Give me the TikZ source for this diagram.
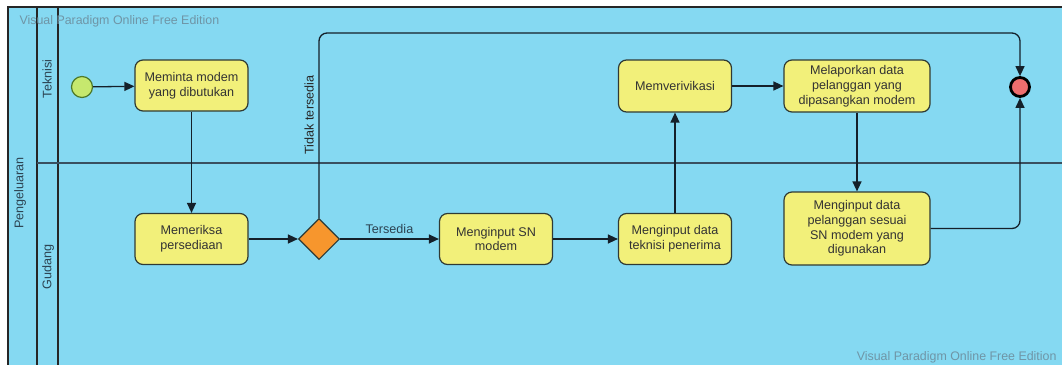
\documentclass[tikz,border=0pt]{standalone}
\usepackage{fontspec}
\setmainfont{Liberation Sans}
\usetikzlibrary{shapes.geometric,arrows.meta}

\definecolor{poolblue}{HTML}{85D9F2}
\definecolor{taskfill}{HTML}{F2F07A}
\definecolor{taskline}{HTML}{2F3A34}
\definecolor{gwfill}{HTML}{F7962D}
\definecolor{startfill}{HTML}{C6E86E}
\definecolor{startline}{HTML}{4E7A2A}
\definecolor{endfill}{HTML}{EE6E6E}
\definecolor{laneline}{HTML}{3A5060}
\definecolor{labeltext}{HTML}{2C4352}
\definecolor{marktext}{HTML}{6F95A6}
\definecolor{flowline}{HTML}{14202A}

\tikzset{
  task/.style={draw=taskline, fill=taskfill, line width=1.2pt, rounded corners=8pt,
    minimum width=113pt, minimum height=51pt, align=center, inner sep=2pt,
    text=black!80, font=\fontsize{12.6}{14.8}\selectfont},
  gateway/.style={draw=taskline, fill=gwfill, diamond, line width=1.1pt,
    minimum width=41pt, minimum height=41pt, inner sep=0pt},
  flow/.style={draw=flowline, line width=1.3pt, -{Triangle[length=10pt,width=9pt]}},
  lanelabel/.style={text=labeltext, font=\fontsize{12.6}{14}\selectfont, rotate=90},
  wmtext/.style={text=marktext, font=\fontsize{12.4}{14}\selectfont}
}

\begin{document}
\begin{tikzpicture}[x=1pt,y=-1pt]
\useasboundingbox (0,0) rectangle (1062,364);
\clip (0,0) rectangle (1062,364);
\fill[white] (0,0) rectangle (1062,364);

% pool and lanes
\draw[fill=poolblue, draw=black!85, line width=1.1pt] (8,7) rectangle (1075,380);
\draw[draw=black!85, line width=1.1pt] (37,7) -- (37,380);
\draw[draw=black!85, line width=1.1pt] (58,7) -- (58,380);
\draw[draw=laneline, line width=1.4pt] (37,163) -- (1075,163);

\node[lanelabel] (pool) at (20,193) {Pengeluaran};
\node[lanelabel] (laneA) at (47,79) {Teknisi};
\node[lanelabel] (laneB) at (48,267) {Gudang};

\node[wmtext, anchor=base west] (wmA) at (16,24) {Visual Paradigm Online Free Edition};
\node[wmtext, anchor=base east] (wmB) at (1060,360) {Visual Paradigm Online Free Edition};

% events, tasks, gateway
\node[circle, draw=startline, fill=startfill, line width=1.2pt, minimum size=21pt, inner sep=0pt] (start) at (82,87) {};
\node[task] (t1) at (191.5,85.5) {Meminta modem\\yang dibutukan};
\node[task] (t2) at (191.5,239) {Memeriksa\\persediaan};
\node[gateway] (gw) at (319,239) {};
\node[task] (t3) at (496,239) {Menginput SN\\modem};
\node[task] (t4) at (675,239) {Menginput data\\teknisi penerima};
\node[task, minimum height=52pt] (t5) at (675,86) {Memverivikasi};
\node[task, minimum width=146pt, minimum height=52pt] (t6) at (857,86) {Melaporkan data\\pelanggan yang\\dipasangkan modem};
\node[task, minimum width=146pt, minimum height=73pt] (t7) at (857,228.5) {Menginput data\\pelanggan sesuai\\SN modem yang\\digunakan};
\node[circle, draw=black, fill=endfill, line width=2.8pt, minimum size=19pt, inner sep=0pt] (end) at (1020,87) {};

% sequence flows
\coordinate (topline) at (0,33);
\draw[flow] (start) -- (t1);
\draw[flow] (t1) -- (t2);
\draw[flow] (t2) -- (gw);
\draw[flow] (gw) -- node[above, text=labeltext, font=\fontsize{12.6}{14}\selectfont, yshift=1pt] {Tersedia} (t3);
\draw[flow, rounded corners=8pt] (gw.north) -- (gw.north |- topline) -| (end.north);
\node[lanelabel, text=black!85] (notavail) at (309,115) {Tidak tersedia};
\draw[flow] (t3) -- (t4);
\draw[flow] (t4) -- (t5);
\draw[flow] (t5) -- (t6);
\draw[flow] (t6) -- (t7);
\draw[flow, rounded corners=8pt] (t7.east) -| (end.south);
\end{tikzpicture}
\end{document}
